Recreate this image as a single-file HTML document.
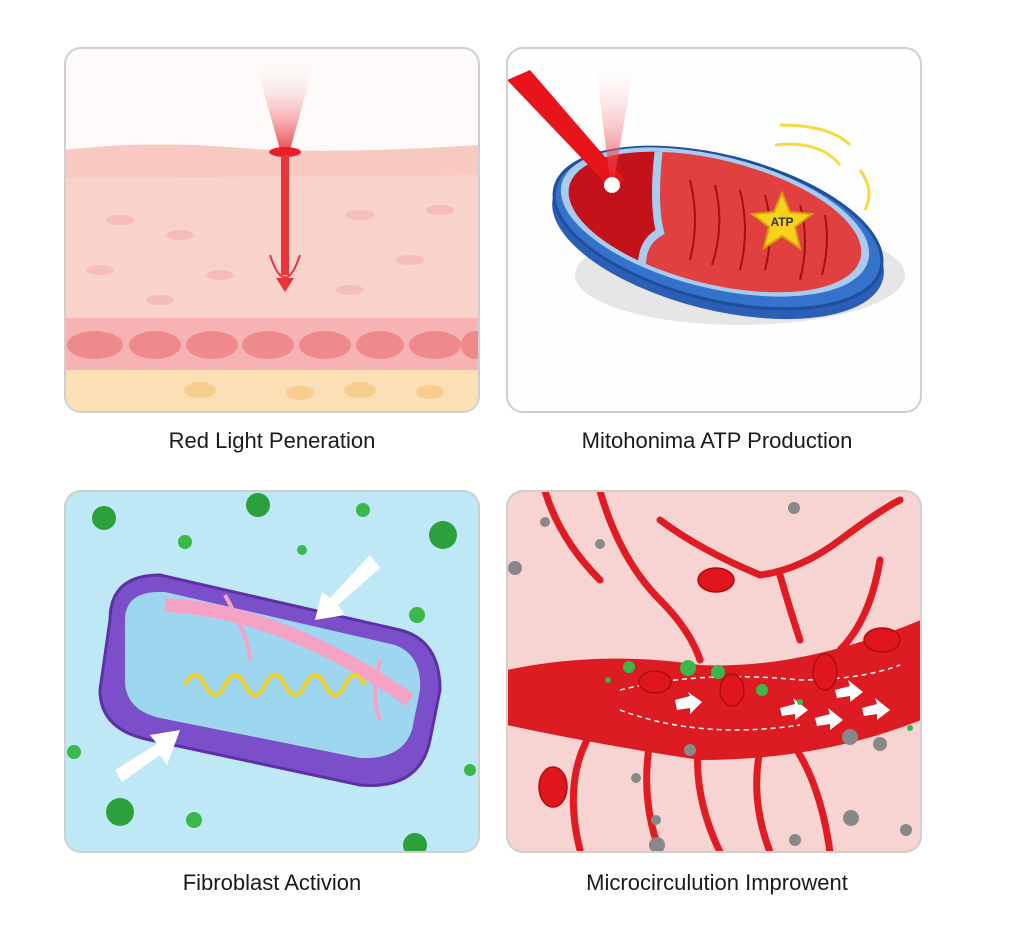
<!DOCTYPE html>
<html><head><style>
html,body{margin:0;padding:0;background:#fff;}
svg{display:block;}
text{font-family:"Liberation Sans",sans-serif;}
</style></head><body>
<svg width="1024" height="946" viewBox="0 0 1024 946" xmlns="http://www.w3.org/2000/svg">
<defs>
<linearGradient id="beam" x1="0" y1="0" x2="0" y2="1"><stop offset="0" stop-color="#fff" stop-opacity="0"/><stop offset="1" stop-color="#e8202a" stop-opacity="0.8"/></linearGradient>
<clipPath id="c1"><rect x="65" y="48" width="414" height="364" rx="16"/></clipPath>
<clipPath id="c2"><rect x="507" y="48" width="414" height="364" rx="16"/></clipPath>
<clipPath id="c3"><rect x="65" y="491" width="414" height="361" rx="16"/></clipPath>
<clipPath id="c4"><rect x="507" y="491" width="414" height="361" rx="16"/></clipPath>
<clipPath id="mi"><ellipse cx="715" cy="222" rx="150" ry="62" transform="rotate(14 715 222)"/></clipPath>
</defs>

<!-- Panel 1 -->
<g clip-path="url(#c1)">
<rect x="65" y="48" width="414" height="364" fill="#fdfaf9"/>
<path d="M65 150 Q150 140 240 148 Q330 155 479 145 L479 330 L65 330 Z" fill="#f9d2cc"/>
<path d="M65 150 Q150 140 240 148 Q330 155 479 145 L479 175 L65 178 Z" fill="#f7c9c0"/>
<rect x="65" y="318" width="414" height="52" fill="#f7b3b3"/>
<g fill="#ef8a8c">
<ellipse cx="95" cy="345" rx="28" ry="14"/><ellipse cx="155" cy="345" rx="26" ry="14"/><ellipse cx="212" cy="345" rx="26" ry="14"/><ellipse cx="268" cy="345" rx="26" ry="14"/><ellipse cx="325" cy="345" rx="26" ry="14"/><ellipse cx="380" cy="345" rx="24" ry="14"/><ellipse cx="435" cy="345" rx="26" ry="14"/><ellipse cx="475" cy="345" rx="14" ry="14"/>
</g>
<rect x="65" y="370" width="414" height="45" fill="#fbe0b5"/>
<g fill="#f7cc8e"><ellipse cx="200" cy="390" rx="16" ry="8"/><ellipse cx="300" cy="393" rx="14" ry="7"/><ellipse cx="360" cy="390" rx="16" ry="8"/><ellipse cx="430" cy="392" rx="14" ry="7"/></g>
<g fill="#f5b4b0" opacity="0.7">
<ellipse cx="120" cy="220" rx="14" ry="5"/><ellipse cx="180" cy="235" rx="14" ry="5"/><ellipse cx="360" cy="215" rx="14" ry="5"/><ellipse cx="410" cy="260" rx="14" ry="5"/><ellipse cx="100" cy="270" rx="14" ry="5"/><ellipse cx="220" cy="275" rx="14" ry="5"/><ellipse cx="350" cy="290" rx="14" ry="5"/><ellipse cx="440" cy="210" rx="14" ry="5"/><ellipse cx="160" cy="300" rx="14" ry="5"/>
</g>
<polygon points="255,60 315,60 290,150 280,150" fill="url(#beam)"/>
<ellipse cx="285" cy="152" rx="16" ry="5" fill="#e81f2a"/>
<rect x="281" y="155" width="8" height="120" fill="#e8353c"/>
<path d="M270 255 Q285 300 300 255" fill="none" stroke="#e8353c" stroke-width="2"/>
<polygon points="276,278 294,278 285,292" fill="#e8353c"/>
</g>
<rect x="65" y="48" width="414" height="364" rx="16" fill="none" stroke="#cfcfcf" stroke-width="2"/>

<!-- Panel 2 -->
<g clip-path="url(#c2)">
<rect x="507" y="48" width="414" height="364" fill="#fefefe"/>
<ellipse cx="740" cy="275" rx="165" ry="50" fill="#e6e6e6"/>
<ellipse cx="718" cy="238" rx="170" ry="72" transform="rotate(14 718 238)" fill="#2a5fb5"/>
<ellipse cx="718" cy="228" rx="168" ry="72" transform="rotate(14 718 228)" fill="#3572cc" stroke="#1f4e9a" stroke-width="3"/>
<ellipse cx="715" cy="222" rx="158" ry="66" transform="rotate(14 715 222)" fill="#a8cbee"/>
<g clip-path="url(#mi)">
<rect x="540" y="140" width="400" height="180" fill="#e04040"/>
<path d="M540 140 L660 140 Q655 200 660 230 Q640 240 640 260 L540 260 Z" fill="#c4121a"/>
<path d="M660 140 Q652 200 660 232 Q642 242 642 265" stroke="#a8cbee" stroke-width="8" fill="none"/>
<g stroke="#a31016" stroke-width="2" fill="none"><path d="M690 180 Q700 220 690 260"/><path d="M715 185 Q725 225 712 265"/><path d="M740 190 Q750 230 740 270"/><path d="M800 205 Q810 240 800 280"/><path d="M825 215 Q830 245 822 275"/><path d="M765 195 Q775 230 765 270"/></g>
</g>
<polygon points="507,80 530,70 625,180 612,190" fill="#e8141c"/>
<polygon points="595,60 635,60 614,180 610,180" fill="url(#beam)"/>
<circle cx="612" cy="185" r="8" fill="#fff"/>
<polygon points="782,193 790,212 812,214 795,227 800,248 782,236 764,248 769,227 752,214 774,212" fill="#f6d21c" stroke="#d89e0c" stroke-width="2"/>
<text x="782" y="226" font-size="12" font-weight="bold" text-anchor="middle" fill="#333">ATP</text>
<g stroke="#f5da40" stroke-width="3" fill="none"><path d="M780 125 Q830 125 850 145"/><path d="M775 145 Q820 140 840 165"/><path d="M860 170 Q875 190 865 210"/></g>
</g>
<rect x="507" y="48" width="414" height="364" rx="16" fill="none" stroke="#cfcfcf" stroke-width="2"/>

<!-- Panel 3 -->
<g clip-path="url(#c3)">
<rect x="65" y="491" width="414" height="361" fill="#bfe8f6"/>
<path d="M110 620 Q110 575 160 575 L400 630 Q440 640 440 690 L430 740 Q420 790 360 785 L150 740 Q100 730 100 690 Z" fill="#7b4fc9" stroke="#5b32a5" stroke-width="3"/>
<path d="M125 620 Q125 590 165 592 L395 645 Q422 655 420 690 L412 730 Q402 760 360 758 L160 718 Q125 710 125 680 Z" fill="#9fd6ef"/>
<path d="M165 605 Q280 610 410 700" stroke="#f4a3c4" stroke-width="14" fill="none"/>
<path d="M225 595 Q250 640 250 660" stroke="#f4a3c4" stroke-width="4" fill="none"/>
<path d="M380 660 Q370 700 380 720" stroke="#f4a3c4" stroke-width="4" fill="none"/>
<path d="M185 665 q10 -20 20 0 q10 20 20 0 q10 -20 20 0 q10 20 20 0 q10 -20 20 0 q10 20 20 0 q10 -20 20 0 q10 20 20 0 q10 -20 20 0" stroke="#f2d127" stroke-width="4" fill="none" transform="translate(0,20)"/>
<polygon points="370,555 380,568 338,605 345,615 315,620 322,592 330,598" fill="#fff"/>
<polygon points="115,770 122,782 160,755 167,765 180,730 150,735 157,744" fill="#fff"/>
<g fill="#2ca03a"><circle cx="104" cy="518" r="12"/><circle cx="258" cy="505" r="12"/><circle cx="443" cy="535" r="14"/><circle cx="120" cy="812" r="14"/><circle cx="415" cy="845" r="12"/></g>
<g fill="#3ab84a"><circle cx="185" cy="542" r="7"/><circle cx="363" cy="510" r="7"/><circle cx="302" cy="550" r="5"/><circle cx="417" cy="615" r="8"/><circle cx="74" cy="752" r="7"/><circle cx="194" cy="820" r="8"/><circle cx="470" cy="770" r="6"/></g>
</g>
<rect x="65" y="491" width="414" height="361" rx="16" fill="none" stroke="#cfcfcf" stroke-width="2"/>

<!-- Panel 4 -->
<g clip-path="url(#c4)">
<rect x="507" y="491" width="414" height="361" fill="#f7d3d2"/>
<g stroke="#e01c22" stroke-width="7" fill="none" stroke-linecap="round">
<path d="M600 491 Q620 560 660 600 Q690 630 700 660"/><path d="M545 491 Q560 540 600 580"/><path d="M660 520 Q700 550 760 575 Q800 570 840 540 Q880 510 900 500"/><path d="M780 575 Q790 610 800 640"/><path d="M880 560 Q870 620 840 650"/><path d="M600 720 Q560 770 580 850"/><path d="M700 730 Q690 790 720 852"/><path d="M790 740 Q820 780 830 852"/><path d="M650 740 Q640 800 660 852"/><path d="M760 750 Q750 800 770 852"/>
</g>
<path d="M507 670 Q600 650 700 665 Q800 670 921 620 L921 720 Q820 760 700 760 Q600 745 507 725 Z" fill="#dc1c22"/>
<path d="M620 690 Q700 670 800 680 Q860 680 900 665" stroke="#fff" stroke-width="1.5" stroke-dasharray="5,4" fill="none"/>
<path d="M620 710 Q700 740 800 725" stroke="#fff" stroke-width="1.5" stroke-dasharray="5,4" fill="none"/>
<g fill="#fff"><polygon points="675,700 690,696 688,692 702,702 690,714 690,708 677,710"/><polygon points="780,708 795,704 793,698 808,710 795,720 795,714 782,716"/><polygon points="815,718 830,714 828,708 843,720 830,730 830,724 817,726"/><polygon points="835,690 850,686 848,680 863,692 850,702 850,696 837,698"/><polygon points="862,708 877,704 875,698 890,710 877,720 877,714 864,716"/></g>
<g fill="#e0161e" stroke="#b00c12" stroke-width="1.5">
<ellipse cx="716" cy="580" rx="18" ry="12"/><ellipse cx="882" cy="640" rx="18" ry="12"/><ellipse cx="655" cy="682" rx="16" ry="11"/><ellipse cx="732" cy="690" rx="12" ry="16"/><ellipse cx="825" cy="672" rx="12" ry="18"/><ellipse cx="553" cy="787" rx="14" ry="20"/>
</g>
<g fill="#3ab84a"><circle cx="629" cy="667" r="6"/><circle cx="688" cy="668" r="8"/><circle cx="718" cy="672" r="7"/><circle cx="762" cy="690" r="6"/><circle cx="800" cy="702" r="3"/><circle cx="608" cy="680" r="3"/><circle cx="910" cy="728" r="3"/></g>
<g fill="#888"><circle cx="545" cy="522" r="5"/><circle cx="794" cy="508" r="6"/><circle cx="600" cy="544" r="5"/><circle cx="515" cy="568" r="7"/><circle cx="850" cy="737" r="8"/><circle cx="880" cy="744" r="7"/><circle cx="690" cy="750" r="6"/><circle cx="656" cy="820" r="5"/><circle cx="657" cy="845" r="8"/><circle cx="795" cy="840" r="6"/><circle cx="851" cy="818" r="8"/><circle cx="906" cy="830" r="6"/><circle cx="636" cy="778" r="5"/></g>
</g>
<rect x="507" y="491" width="414" height="361" rx="16" fill="none" stroke="#cfcfcf" stroke-width="2"/>

<g font-size="22" fill="#1a1a1a" text-anchor="middle">
<text x="272" y="448">Red Light Peneration</text>
<text x="717" y="448">Mitohonima ATP Production</text>
<text x="272" y="890">Fibroblast Activion</text>
<text x="717" y="890">Microcirculution Improwent</text>
</g>
</svg>
</body></html>
